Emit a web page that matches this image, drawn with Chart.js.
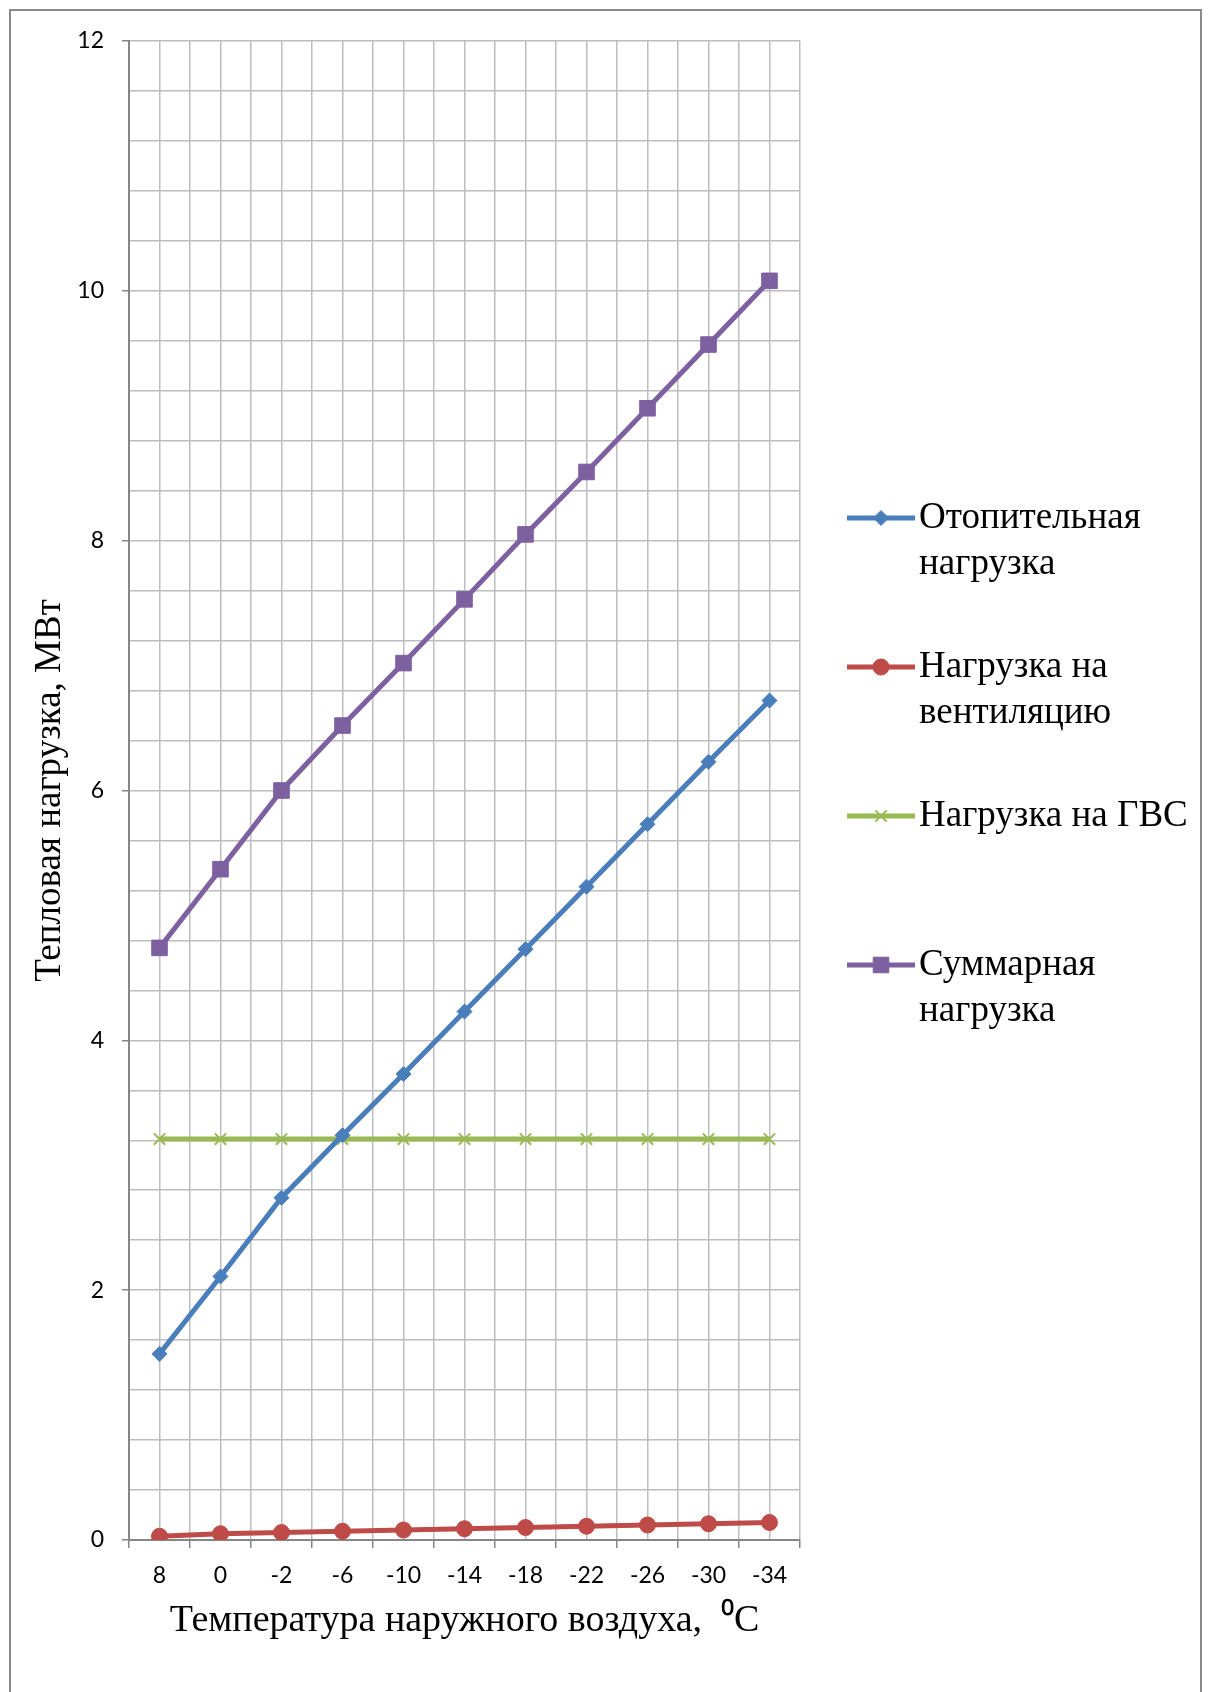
<!DOCTYPE html>
<html>
<head>
<meta charset="utf-8">
<script src="https://cdn.jsdelivr.net/npm/chart.js@4/dist/chart.umd.min.js"></script>
<style>
  html, body { margin: 0; padding: 0; background: #fff; overflow: hidden; }
  #wrap { position: relative; width: 1208px; height: 1692px; }
  #frame { position: absolute; left: 9px; top: 9px; width: 1193px; height: 1720px;
           box-sizing: border-box; border: 2px solid #8a8a8a; border-bottom: none; pointer-events: none; }
</style>
</head>
<body>
<div id="wrap">
  <canvas id="grafico" width="1208" height="1692"></canvas>
  <div id="frame"></div>
</div>
<script>
// температуры наружного воздуха
etiquetas = ["8", "0", "-2", "-6", "-10", "-14", "-18", "-22", "-26", "-30", "-34"]
otoplenie = [1.49, 2.11, 2.74, 3.24, 3.73, 4.23, 4.73, 5.23, 5.73, 6.23, 6.72]
ventilyaciya = [0.03, 0.05, 0.06, 0.07, 0.08, 0.09, 0.10, 0.11, 0.12, 0.13, 0.14]
gvs = [3.21, 3.21, 3.21, 3.21, 3.21, 3.21, 3.21, 3.21, 3.21, 3.21, 3.21]
summa = [4.74, 5.37, 6.00, 6.52, 7.02, 7.53, 8.05, 8.55, 9.06, 9.57, 10.08]
nombres = ["Отопительная\nнагрузка", "Нагрузка на\nвентиляцию", "Нагрузка на ГВС", "Суммарная\nнагрузка"]
colores = ["#4A7EBB", "#BE4B48", "#98B954", "#7D60A0"]
marcadores = [["rectRot", 7.5, 1], ["circle", 8, 1], ["crossRot", 8, 2], ["rect", 11, 1]]

colorEje = "#868686"
colorRejilla = "#bdbdbd"
serif = "'Liberation Serif', 'Times New Roman', serif"
sans = "Lato, 'Open Sans', sans-serif"

function serie(i, datos) {
	return {
		label: nombres[i],
		data: datos,
		borderColor: colores[i],
		backgroundColor: colores[i],
		borderWidth: 5,
		pointStyle: marcadores[i][0],
		pointRadius: marcadores[i][1],
		pointBorderWidth: marcadores[i][2],
		pointHoverRadius: marcadores[i][1],
		tension: 0,
		xAxisID: "x"
	};
}

function esMayor(v) {
	return Math.abs(v / 2 - Math.round(v / 2)) < 1e-6;
}

// легенда справа, подписи в две строки
leyenda = {
	id: "leyenda",
	afterDraw: function(chart) {
		var ctx = chart.ctx;
		var x0 = chart.chartArea.right + 47, largo = 68, y0 = 518, paso = 149, linea = 46;
		ctx.save();
		chart.data.datasets.forEach(function(ds, i) {
			var y = y0 + i * paso;
			ctx.strokeStyle = ds.borderColor;
			ctx.lineWidth = 5;
			ctx.beginPath();
			ctx.moveTo(x0, y);
			ctx.lineTo(x0 + largo, y);
			ctx.stroke();
			ctx.fillStyle = ds.backgroundColor;
			ctx.lineWidth = ds.pointBorderWidth;
			Chart.helpers.drawPoint(ctx, {pointStyle: ds.pointStyle, radius: ds.pointRadius, borderWidth: ds.pointBorderWidth, rotation: 0}, x0 + largo / 2, y);
			ctx.fillStyle = "#000";
			ctx.font = "37px " + serif;
			ctx.textBaseline = "middle";
			ctx.textAlign = "left";
			ds.label.split("\n").forEach(function(t, k) {
				ctx.fillText(t, x0 + largo + 4, y + k * linea);
			});
		});
		ctx.restore();
	}
};

new Chart(document.getElementById("grafico").getContext("2d"), {
	type: "line",
	data: {
		labels: etiquetas,
		datasets: [serie(0, otoplenie), serie(1, ventilyaciya), serie(2, gvs), serie(3, summa)]
	},
	options: {
		responsive: false,
		animation: false,
		layout: { padding: { left: 0, top: 41, right: 408, bottom: 0 } },
		plugins: { legend: { display: false }, tooltip: { enabled: false } },
		scales: {
			x: {
				type: "category",
				offset: true,
				grid: { offset: true, color: colorRejilla, lineWidth: 1.5, tickLength: 8, tickColor: colorEje, tickWidth: 1.5 },
				border: { color: colorEje, width: 2 },
				ticks: { color: "#000", font: { family: sans, size: 23 }, padding: 14, maxRotation: 0, autoSkip: false },
				title: { display: true, text: "Температура наружного воздуха,  \u2070C", color: "#000",
					font: { family: serif, size: 38 }, padding: { top: 0, bottom: 48 } },
				afterFit: function(s) { s.height = 152; }
			},
			x2: {
				type: "category",
				position: "bottom",
				offset: true,
				grid: { offset: false, color: colorRejilla, lineWidth: 1.5, drawTicks: false },
				border: { display: false },
				ticks: { display: false },
				afterFit: function(s) { s.height = 0; }
			},
			y: {
				min: 0,
				max: 12,
				grid: { color: colorRejilla, lineWidth: 1.5, tickLength: 7, tickWidth: 1.5,
					tickColor: function(c) { return c.tick && esMayor(c.tick.value) ? colorEje : "rgba(0,0,0,0)"; } },
				border: { color: colorEje, width: 2 },
				ticks: { stepSize: 0.4, autoSkip: false, color: "#000", font: { family: sans, size: 23 }, padding: 18,
					callback: function(v) { return esMayor(v) ? String(Math.round(v)) : ""; } },
				title: { display: true, text: "Тепловая нагрузка, МВт", color: "#000",
					font: { family: serif, size: 37 }, padding: { top: 28, bottom: 0 } },
				afterFit: function(s) { s.width = 129; }
			}
		}
	},
	plugins: [leyenda]
});
</script>
</body>
</html>
